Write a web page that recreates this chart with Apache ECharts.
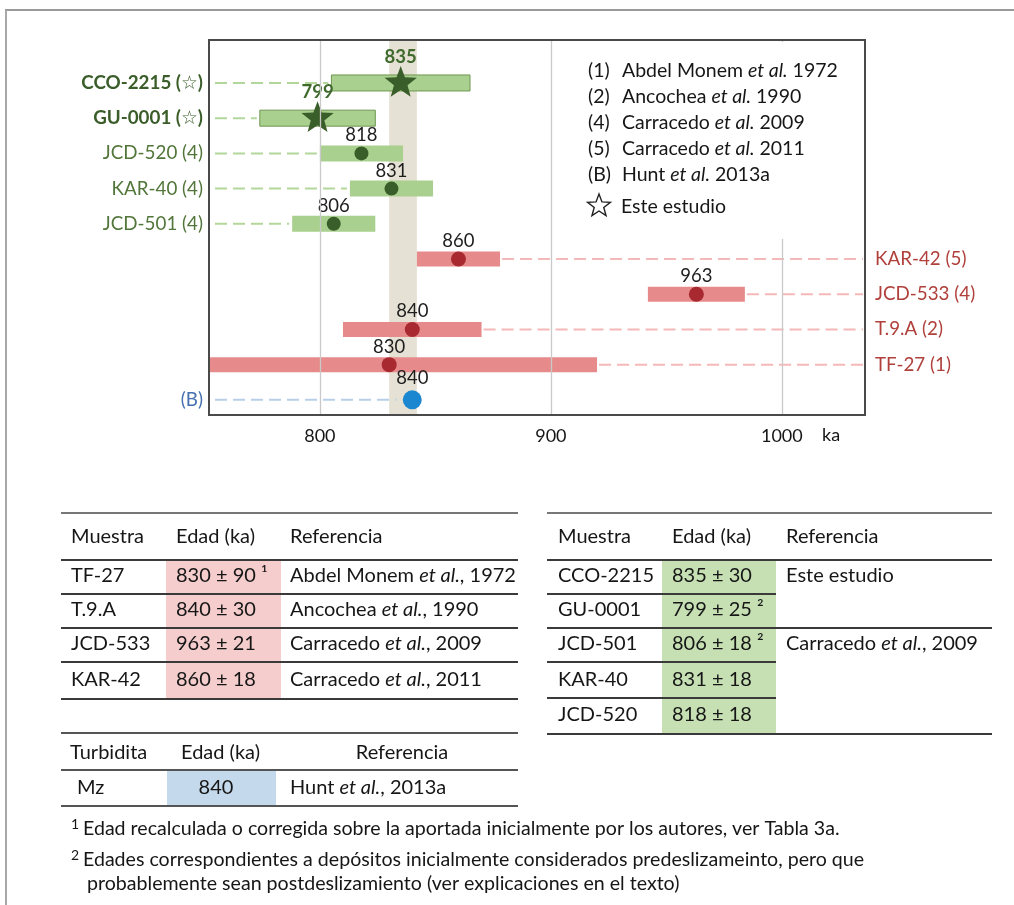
<!DOCTYPE html>
<html>
<head>
<meta charset="utf-8">
<script src="https://cdn.jsdelivr.net/npm/echarts@6/dist/echarts.min.js"></script>
<style>
  html, body { margin: 0; padding: 0; background: #fff; }
  #chart { width: 1014px; height: 905px; }
</style>
</head>
<body>
<div id="chart"></div>
<script>
// ---- data -------------------------------------------------------------
// One entry per plotted row, top to bottom.
const sampleNames = ['CCO-2215', 'GU-0001', 'JCD-520', 'KAR-40', 'JCD-501', 'KAR-42', 'JCD-533', 'T.9.A', 'TF-27', 'Mz'];
const sourceTags  = ['☆', '☆', '4', '4', '4', '5', '4', '2', '1', 'B'];
const ageValues   = [835, 799, 818, 831, 806, 860, 963, 840, 830, 840];
const ageErrors   = [30, 25, 18, 18, 18, 18, 21, 30, 90, 0];
const ageNotes    = ['', '2', '', '', '2', '', '', '', '1', ''];
// A: right-hand table, B: left-hand table, T: turbidite
const sampleSet   = ['A', 'A', 'A', 'A', 'A', 'B', 'B', 'B', 'B', 'T'];

// Shaded age window and axis ticks (ka)
const bandRange = [830, 842];
const xTicks = [800, 900, 1000];

// Source list
const legendKeys    = ['(1)', '(2)', '(4)', '(5)', '(B)'];
const legendAuthors = ['Abdel Monem', 'Ancochea', 'Carracedo', 'Carracedo', 'Hunt'];
const legendYears   = ['1972', '1990', '2009', '2011', '2013a'];

// Tables
const tableLeftRows  = ['TF-27', 'T.9.A', 'JCD-533', 'KAR-42'];
const tableLeftRefs  = [['Abdel Monem', '1972'], ['Ancochea', '1990'], ['Carracedo', '2009'], ['Carracedo', '2011']];
const tableRightRows = ['CCO-2215', 'GU-0001', 'JCD-501', 'KAR-40', 'JCD-520'];
const tableRightRefs = [['Este estudio'], [], ['Carracedo', '2009'], [], []];
const turbiditeRows  = ['Mz'];
const turbiditeRefs  = [['Hunt', '2013a']];

const footnotes = [
  ['1', 'Edad recalculada o corregida sobre la aportada inicialmente por los autores, ver Tabla 3a.'],
  ['2', 'Edades correspondientes a depósitos inicialmente considerados predeslizameinto, pero que'],
  ['', 'probablemente sean postdeslizamiento (ver explicaciones en el texto)']
];

// ---- styling ----------------------------------------------------------
const FONT = 'Lato, "Open Sans", "DejaVu Sans", sans-serif';
const INK = '#161616';
const SUP = { '1': '¹', '2': '²' };
const palette = {
  A: { bar: '#a9d08e', barStroke: '#6f9650', mark: '#3a5e2a', dash: '#b3d79b',
       label: '#52763a', labelStrong: '#3b5d2a', value: '#1e1e1e', valueStrong: '#406a2d' },
  B: { bar: '#e78a8b', mark: '#a8292f', dash: '#f5b8b8', label: '#b0403b', value: '#1e1e1e' },
  T: { mark: '#1c87d1', dash: '#b7d0e8', label: '#4470b0', value: '#1e1e1e' }
};
const GRID = { left: 209, top: 40, width: 656, height: 375 };

function starPoints(cx, cy, R, ratio) {
  const pts = [];
  for (let k = 0; k < 10; k++) {
    const rad = k % 2 === 0 ? R : R * ratio;
    const a = -Math.PI / 2 + k * Math.PI / 5;
    pts.push([cx + rad * Math.cos(a), cy + rad * Math.sin(a)]);
  }
  return pts;
}

// Each row: leader dashes, age range bar, marker, age label and sample label.
function renderRow(params, api) {
  const i = params.dataIndex;
  const cs = params.coordSys;
  const left = cs.x, right = cs.x + cs.width;
  const age = api.value(0), row = api.value(1);
  const c = api.coord([age, row]);
  const cx = c[0], cy = c[1];
  const set = sampleSet[i];
  const pal = palette[set];
  const isStar = sourceTags[i] === '☆';
  const err = ageErrors[i];
  const kids = [];
  let x0 = cx, x1 = cx;
  if (err) {
    x0 = Math.max(api.coord([age - err, row])[0], left + 1);
    x1 = Math.min(api.coord([age + err, row])[0], right - 1);
  }
  const dash = { stroke: pal.dash, lineWidth: 2, lineDash: [12, 6] };
  if (set === 'B') {
    kids.push({ type: 'line', shape: { x1: x1 + 2, y1: cy, x2: right - 2, y2: cy }, style: dash });
  } else {
    const end = err ? x0 - 3 : cx - 16;
    kids.push({ type: 'line', shape: { x1: left + 6, y1: cy, x2: end, y2: cy }, style: dash });
  }
  if (err) {
    const h = set === 'A' ? 16 : 15;
    kids.push({ type: 'rect', shape: { x: x0, y: cy - h / 2, width: x1 - x0, height: h },
      style: { fill: pal.bar, stroke: isStar ? pal.barStroke : null, lineWidth: 1 } });
  }
  if (isStar) {
    kids.push({ type: 'polygon', shape: { points: starPoints(cx, cy, 17, 0.42) }, style: { fill: pal.mark } });
  } else {
    const r = set === 'T' ? 9.5 : (set === 'B' ? 7.5 : 7);
    kids.push({ type: 'circle', shape: { cx: cx, cy: cy, r: r }, style: { fill: pal.mark } });
  }
  const off = isStar ? 26 : (set === 'T' ? 22 : 18);
  kids.push({ type: 'text', style: {
    text: String(age), x: cx, y: cy - off, align: 'center', verticalAlign: 'middle',
    fontSize: 18.5, fontFamily: FONT, fontWeight: isStar ? 'bold' : 'normal',
    fill: isStar ? pal.valueStrong : pal.value } });
  const tag = '(' + sourceTags[i] + ')';
  const name = set === 'T' ? tag : sampleNames[i] + ' ' + tag;
  if (set === 'B') {
    kids.push({ type: 'text', style: { text: name, x: right + 10, y: cy, align: 'left', verticalAlign: 'middle',
      fontSize: 18.8, fontFamily: FONT, fill: pal.label } });
  } else {
    kids.push({ type: 'text', style: { text: name, x: left - 6, y: cy, align: 'right', verticalAlign: 'middle',
      fontSize: 18.8, fontFamily: FONT, fontWeight: isStar ? 'bold' : 'normal',
      fill: isStar ? pal.labelStrong : pal.label } });
  }
  return { type: 'group', children: kids };
}

// ---- graphic helpers --------------------------------------------------
function txt(x, y, text, extra) {
  return { type: 'text', z: 10, style: Object.assign({ x: x, y: y, text: text, fontSize: 20,
    fontFamily: FONT, fill: INK, align: 'left', verticalAlign: 'middle' }, extra || {}) };
}
function refRich(x, y, parts, size, sep, extra) {
  if (parts.length === 0) return null;
  if (parts.length === 1) return txt(x, y, parts[0], Object.assign({ fontSize: size }, extra || {}));
  const base = { fontSize: size, fontFamily: FONT, fill: INK };
  return { type: 'text', z: 10, style: Object.assign({ x: x, y: y, align: 'left', verticalAlign: 'middle',
    text: '{n|' + parts[0] + ' }{i|et al.}{n|' + sep + parts[1] + '}',
    rich: { n: base, i: Object.assign({ fontStyle: 'italic' }, base) } }, extra || {}) };
}
function hline(x1, x2, y, color, w) {
  return { type: 'line', z: 10, shape: { x1: x1, y1: y, x2: x2, y2: y },
    style: { stroke: color || '#3a3a3a', lineWidth: w || 2 } };
}
function box(x, y, w, h, fill) {
  return { type: 'rect', z: 9, shape: { x: x, y: y, width: w, height: h }, style: { fill: fill } };
}
function ageCell(name) {
  const i = sampleNames.indexOf(name);
  const base = ageErrors[i] ? ageValues[i] + ' ± ' + ageErrors[i] : String(ageValues[i]);
  return ageNotes[i] ? base + ' ' + SUP[ageNotes[i]] : base;
}

const g = [];
// figure frame
g.push({ type: 'line', z: 10, shape: { x1: 5, y1: 10, x2: 1014, y2: 10 }, style: { stroke: '#9a9a9a', lineWidth: 2 } });
g.push({ type: 'line', z: 10, shape: { x1: 6, y1: 10, x2: 6, y2: 905 }, style: { stroke: '#a8a8a8', lineWidth: 2 } });
// plot frame
g.push({ type: 'rect', z: 20, shape: { x: GRID.left, y: GRID.top, width: GRID.width, height: GRID.height },
  style: { fill: null, stroke: '#4a4a4a', lineWidth: 2 } });
// source list box
g.push({ type: 'rect', z: 8, shape: { x: 566, y: 42, width: 296, height: 197 }, style: { fill: '#fff' } });
const legendY = [71, 97, 123, 149, 175];
legendKeys.forEach(function (k, j) {
  g.push(txt(588, legendY[j], k, { fontSize: 19.5 }));
  g.push(refRich(622, legendY[j], [legendAuthors[j], legendYears[j]], 19.5, ' '));
});
g.push({ type: 'polygon', z: 10, shape: { points: starPoints(599, 206, 12, 0.42) },
  style: { fill: null, stroke: '#222', lineWidth: 1.4 } });
g.push(txt(621, 207, 'Este estudio', { fontSize: 19.5 }));
// axis unit
g.push(txt(822, 435, 'ka', { fontSize: 18 }));

// left table
(function () {
  const X0 = 61, X1 = 518, cols = [71, 176, 290];
  const rowsY = [576, 610, 644, 680], lines = [594, 628, 662];
  g.push(box(166, 561, 115, 138, '#f5cdcd'));
  g.push(hline(X0, X1, 513, '#777'));
  g.push(txt(cols[0], 537, 'Muestra'));
  g.push(txt(cols[1], 537, 'Edad (ka)'));
  g.push(txt(cols[2], 537, 'Referencia'));
  g.push(hline(X0, X1, 560));
  tableLeftRows.forEach(function (n, j) {
    g.push(txt(cols[0], rowsY[j], n));
    g.push(txt(cols[1], rowsY[j], ageCell(n)));
    g.push(refRich(cols[2], rowsY[j], tableLeftRefs[j], 20, ', '));
  });
  lines.forEach(function (y) { g.push(hline(X0, X1, y)); });
  g.push(hline(X0, X1, 699));
})();

// right table
(function () {
  const X0 = 547, X1 = 992, XM = 776, cols = [558, 672, 786];
  const rowsY = [576, 610, 644, 680, 715];
  g.push(box(662, 561, 114, 173, '#c6e0b4'));
  g.push(hline(X0, X1, 513, '#777'));
  g.push(txt(cols[0], 537, 'Muestra'));
  g.push(txt(cols[1], 537, 'Edad (ka)'));
  g.push(txt(cols[2], 537, 'Referencia'));
  g.push(hline(X0, X1, 560));
  tableRightRows.forEach(function (n, j) {
    g.push(txt(cols[0], rowsY[j], n));
    g.push(txt(cols[1], rowsY[j], ageCell(n)));
    const r = refRich(cols[2], rowsY[j], tableRightRefs[j], 20, ', ');
    if (r) g.push(r);
  });
  g.push(hline(X0, XM, 594));
  g.push(hline(X0, X1, 628));
  g.push(hline(X0, XM, 662));
  g.push(hline(X0, XM, 698));
  g.push(hline(X0, X1, 734));
})();

// turbidite table
(function () {
  const X0 = 61, X1 = 518;
  g.push(box(167, 771, 109, 35, '#c5d9ec'));
  g.push(hline(X0, X1, 733, '#555'));
  g.push(txt(70, 753, 'Turbidita'));
  g.push(txt(181, 753, 'Edad (ka)'));
  g.push(txt(402, 753, 'Referencia', { align: 'center' }));
  g.push(hline(X0, X1, 770, '#555'));
  turbiditeRows.forEach(function (n, j) {
    g.push(txt(77, 788, n));
    g.push(txt(216, 788, ageCell(n), { align: 'center' }));
    g.push(refRich(290, 788, turbiditeRefs[j], 20, ', '));
  });
  g.push(hline(X0, X1, 806, '#555'));
})();

// footnotes
const noteY = [829, 860, 884];
footnotes.forEach(function (f, j) {
  if (f[0]) g.push(txt(71, noteY[j] - 5, f[0], { fontSize: 14 }));
  g.push(txt(f[0] ? 83 : 87, noteY[j], f[1], { fontSize: 19.6 }));
});

// ---- chart ------------------------------------------------------------
const chart = echarts.init(document.getElementById('chart'));
chart.setOption({
  animation: false,
  backgroundColor: '#fff',
  grid: GRID,
  xAxis: {
    type: 'value', min: 752, max: 1036,
    axisLine: { show: false }, axisTick: { show: false }, splitLine: { show: false },
    axisLabel: { customValues: xTicks, fontSize: 18, fontFamily: FONT, color: INK, margin: 12,
      formatter: function (v) { return String(v); } }
  },
  yAxis: { type: 'value', inverse: true, min: -1.22, max: 9.43, show: false },
  graphic: { elements: g },
  series: [
    {
      type: 'scatter', data: [], z: 1, silent: true,
      markArea: { silent: true, itemStyle: { color: '#e5e1d4' },
        data: [[{ xAxis: bandRange[0] }, { xAxis: bandRange[1] }]] },
      markLine: { silent: true, symbol: 'none', label: { show: false },
        lineStyle: { color: '#c9c9c9', width: 1.3, type: 'solid' },
        data: xTicks.map(function (v) { return { xAxis: v }; }) }
    },
    {
      type: 'custom', z: 3, silent: true,
      renderItem: renderRow,
      data: ageValues.map(function (v, i) { return [v, i]; })
    }
  ]
});
</script>
</body>
</html>
